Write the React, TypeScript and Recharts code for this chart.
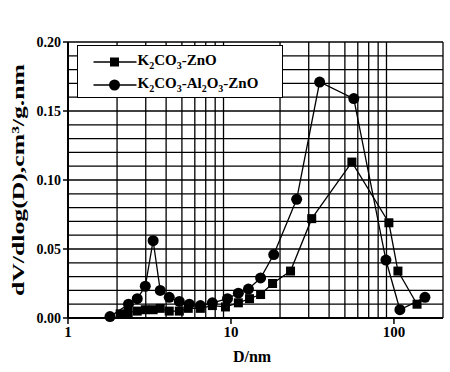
import React from 'react';
import { LineChart, Line, XAxis, YAxis, ReferenceLine, Customized } from 'recharts';

const squareD = [2.09, 2.34, 2.66, 2.98, 3.33, 3.68, 4.18, 4.82, 5.47, 6.49, 7.69, 9.25, 11.1, 13.0, 15.2, 18.0, 23.2, 31.3, 55.2, 93.1, 105.8, 138.6];
const squareV = [0.003, 0.004, 0.005, 0.006, 0.006, 0.007, 0.005, 0.005, 0.007, 0.007, 0.009, 0.008, 0.011, 0.014, 0.017, 0.025, 0.034, 0.072, 0.113, 0.069, 0.034, 0.010];
const circleD = [1.81, 2.35, 2.66, 2.98, 3.33, 3.68, 4.18, 4.82, 5.55, 6.49, 7.69, 9.52, 11.1, 12.8, 15.2, 18.3, 25.3, 35.0, 56.7, 89.3, 108.8, 155];
const circleV = [0.001, 0.010, 0.014, 0.023, 0.056, 0.020, 0.015, 0.012, 0.010, 0.009, 0.011, 0.014, 0.018, 0.021, 0.029, 0.046, 0.086, 0.171, 0.159, 0.042, 0.006, 0.015];

const xTicks = [1, 10, 100];
const yTicks = [0, 0.05, 0.1, 0.15, 0.2];
const xGrid = [2, 3, 4, 5, 6, 7, 8, 9, 20, 30, 40, 50, 60, 70, 80, 90, 200];
const yGrid = [0.01, 0.02, 0.03, 0.04, 0.05, 0.06, 0.07, 0.08, 0.09, 0.1, 0.11, 0.12, 0.13, 0.14, 0.15, 0.16, 0.17, 0.18, 0.19, 0.2];

const squareData = squareD.map((d, i) => ({ d, v: squareV[i] }));
const circleData = circleD.map((d, i) => ({ d, v: circleV[i] }));

const FONT = '"Liberation Serif", "DejaVu Serif", serif';

const SquareDot = (p: any) => (
  <rect key={`s${p.index}`} x={p.cx - 4.5} y={p.cy - 4.5} width={9} height={9} fill="#000" />
);
const CircleDot = (p: any) => (
  <circle key={`c${p.index}`} cx={p.cx} cy={p.cy} r={5.5} fill="#000" />
);

const Labels = () => (
  <g fontFamily={FONT} fontWeight="bold" fill="#000">
    <text x={0} y={0} fontSize={17} textAnchor="middle" textLength={232} lengthAdjust="spacingAndGlyphs" transform="translate(24,180) rotate(-90)">
      dV/dlog(D),cm³/g.nm
    </text>
    <text x={252} y={362} fontSize={16} textAnchor="middle">D/nm</text>
  </g>
);

const sub: React.CSSProperties = { fontSize: 10, verticalAlign: 'baseline', position: 'relative', top: 4 };

const LegendBox = () => (
  <div
    style={{
      position: 'absolute', left: 77, top: 45, width: 206, height: 53, boxSizing: 'border-box',
      border: '1.5px solid #000', background: '#fff', fontFamily: FONT, fontWeight: 'bold', fontSize: 15, color: '#000',
    }}
  >
    <svg width={50} height={53} style={{ position: 'absolute', left: 13.5, top: -1.5 }}>
      <line x1={1.5} y1={17} x2={44.5} y2={17} stroke="#000" strokeWidth={1.3} />
      <rect x={18} y={12.5} width={9} height={9} fill="#000" />
      <line x1={1.5} y1={40} x2={44.5} y2={40} stroke="#000" strokeWidth={1.3} />
      <circle cx={22.5} cy={40} r={5.5} fill="#000" />
    </svg>
    <div style={{ position: 'absolute', left: 59.5, top: 5, whiteSpace: 'nowrap', lineHeight: '18px' }}>
      K<span style={sub}>2</span>CO<span style={sub}>3</span>-ZnO
    </div>
    <div style={{ position: 'absolute', left: 59.5, top: 28, whiteSpace: 'nowrap', lineHeight: '18px' }}>
      K<span style={sub}>2</span>CO<span style={sub}>3</span>-Al<span style={sub}>2</span>O<span style={sub}>3</span>-ZnO
    </div>
  </div>
);

export default function App() {
  return (
    <div style={{ position: 'absolute', left: 0, top: 0, width: 450, height: 372 }}>
      <LineChart width={450} height={372} margin={{ top: 42, right: 7, left: 0, bottom: 0 }}>
        <XAxis
          type="number"
          dataKey="d"
          scale="log"
          domain={[1, 200]}
          ticks={xTicks}
          allowDataOverflow
          height={54}
          tickSize={6}
          tickLine={{ stroke: '#000', strokeWidth: 1.5 }}
          axisLine={{ stroke: '#000', strokeWidth: 2 }}
          tick={{ fill: '#000', fontSize: 15, fontWeight: 'bold', fontFamily: FONT }}
        />
        <YAxis
          type="number"
          dataKey="v"
          domain={[0, 0.2]}
          ticks={yTicks}
          width={68}
          tickSize={5}
          tickFormatter={(v: number) => v.toFixed(2)}
          tickLine={{ stroke: '#000', strokeWidth: 1.5 }}
          axisLine={{ stroke: '#000', strokeWidth: 2 }}
          tick={{ fill: '#000', fontSize: 14, fontWeight: 'bold', fontFamily: FONT }}
        />
        {xGrid.map((x) => (
          <ReferenceLine key={`x${x}`} x={x} stroke="#000" strokeWidth={1.3} />
        ))}
        {yGrid.map((y) => (
          <ReferenceLine key={`y${y}`} y={y} stroke="#000" strokeWidth={1.3} />
        ))}
        <Customized component={Labels} />
        <Line data={squareData} dataKey="v" type="linear" stroke="#000" strokeWidth={1.3} dot={SquareDot} isAnimationActive={false} />
        <Line data={circleData} dataKey="v" type="linear" stroke="#000" strokeWidth={1.3} dot={CircleDot} isAnimationActive={false} />
      </LineChart>
      <LegendBox />
    </div>
  );
}
